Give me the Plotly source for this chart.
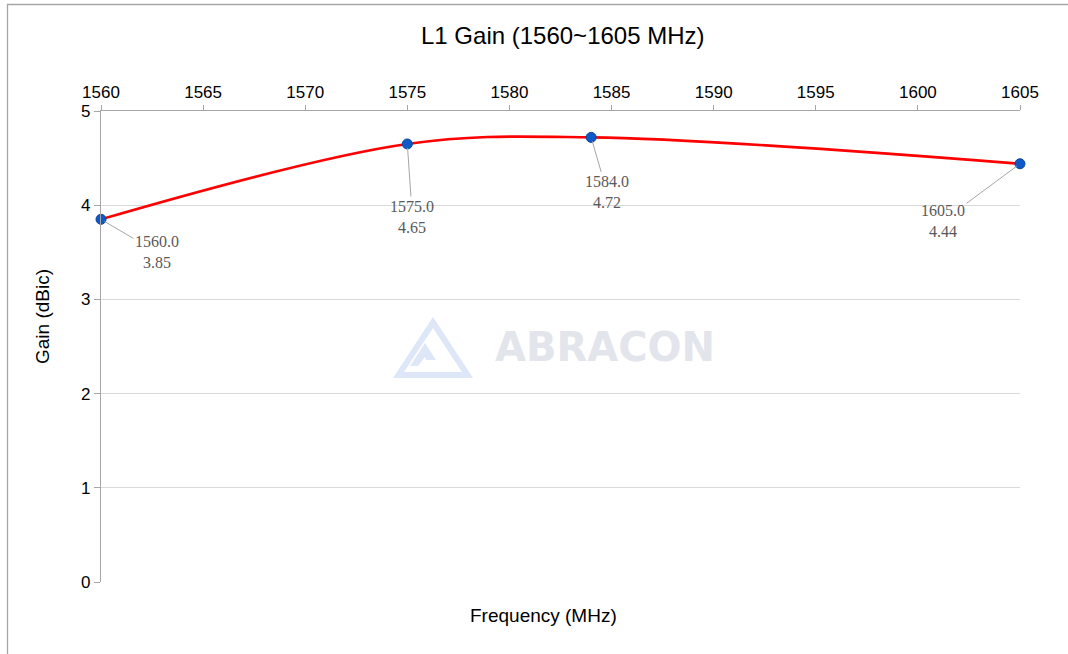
import plotly.graph_objects as go

# Data
freq_mhz = [1560, 1575, 1584, 1605]
gain_dbic = [3.85, 4.65, 4.72, 4.44]
x_ticks = [1560, 1565, 1570, 1575, 1580, 1585, 1590, 1595, 1600, 1605]
y_ticks = [0, 1, 2, 3, 4, 5]
label_offsets = [(56, 33), (5, 73), (16, 55), (-77, 57)]

W, H = 1068, 654
ML, MR, MT, MB = 101, 48, 111, 72

fig = go.Figure()
fig.add_trace(go.Scatter(
    x=freq_mhz, y=gain_dbic, mode="lines",
    line=dict(color="#ff0000", width=2.6, shape="spline", smoothing=1.0),
    cliponaxis=False, hoverinfo="skip", showlegend=False))
fig.add_trace(go.Scatter(
    x=freq_mhz, y=gain_dbic, mode="markers",
    marker=dict(color="#0d59c8", size=10, line=dict(color="#0a46a0", width=1)),
    cliponaxis=False, showlegend=False))

annotations = []
for f, g, (ax, ay) in zip(freq_mhz, gain_dbic, label_offsets):
    annotations.append(dict(
        x=f, y=g, xref="x", yref="y", text=f"{f:.1f}<br>{g:.2f}",
        showarrow=True, arrowhead=0, arrowwidth=1, arrowcolor="#a6a6a6",
        ax=ax, ay=ay, standoff=4,
        font=dict(family="Liberation Serif", size=16, color="#595959"),
        align="center"))


def px(xp):
    return (xp - ML) / 919


def py(yp):
    return (582 - yp) / 471


common = dict(xref="paper", yref="paper", showarrow=False, xanchor="center", yanchor="middle")
# axis titles / chart title
annotations.append(dict(text="L1 Gain (1560~1605 MHz)", x=px(563), y=py(35),
                        font=dict(family="Liberation Sans", size=24, color="#000000"), **common))
annotations.append(dict(text="Frequency (MHz)", x=px(543), y=py(615),
                        font=dict(family="Liberation Sans", size=19, color="#000000"), **common))
annotations.append(dict(text="Gain (dBic)", x=px(42), y=py(317), textangle=-90,
                        font=dict(family="Liberation Sans", size=19, color="#000000"), **common))
# watermark
annotations.append(dict(text="<b>ABRACON</b>", x=px(605), y=py(347),
                        font=dict(family="DejaVu Sans", size=40, color="#e3e5ec"), **common))

logo_outer = (f"M {px(393)},{py(378)} L {px(433)},{py(317)} L {px(473)},{py(378)} Z "
              f"M {px(404)},{py(372)} L {px(462)},{py(372)} L {px(433)},{py(328)} Z")
logo_inner = (f"M {px(410)},{py(366)} L {px(425)},{py(343)} L {px(436)},{py(360)} L {px(426)},{py(360)} L {px(425)},{py(357)} L {px(418)},{py(366)} Z")

shapes = [
    dict(type="path", xref="paper", yref="paper", path=logo_outer,
         fillcolor="#dde7f8", line=dict(width=0), layer="below", fillrule="evenodd"),
    dict(type="path", xref="paper", yref="paper", path=logo_inner,
         fillcolor="#dde7f8", line=dict(width=0), layer="below"),
    # outer frame
    dict(type="rect", xref="paper", yref="paper",
         x0=px(7.5), x1=px(1100), y0=py(700), y1=py(4.5),
         line=dict(color="#a6a6a6", width=1.3), fillcolor="rgba(0,0,0,0)"),
]

fig.update_layout(
    width=W, height=H,
    margin=dict(l=ML, r=MR, t=MT, b=MB),
    paper_bgcolor="white", plot_bgcolor="white",
    annotations=annotations, shapes=shapes,
    font=dict(family="Liberation Sans", size=16, color="#000000"),
    xaxis=dict(side="top", range=[1560, 1605], tickvals=x_ticks,
               showgrid=False, zeroline=False, showline=True, linecolor="#a6a6a6", linewidth=1.3,
               ticks="outside", ticklen=5, tickcolor="#a6a6a6", tickwidth=1.3,
               tickfont=dict(family="Liberation Sans", size=17, color="#000000")),
    yaxis=dict(range=[0, 5], tickvals=y_ticks,
               showgrid=True, gridcolor="#d9d9d9", gridwidth=1.3, zeroline=False,
               showline=True, linecolor="#a6a6a6", linewidth=1.3,
               ticks="outside", ticklen=6, tickcolor="#a6a6a6", tickwidth=1.3,
               tickfont=dict(family="Liberation Sans", size=17, color="#000000")),
)

fig.write_html("out.html", config={"displayModeBar": False},
               post_script="document.body.style.margin='0px';document.body.style.overflow='hidden';")
